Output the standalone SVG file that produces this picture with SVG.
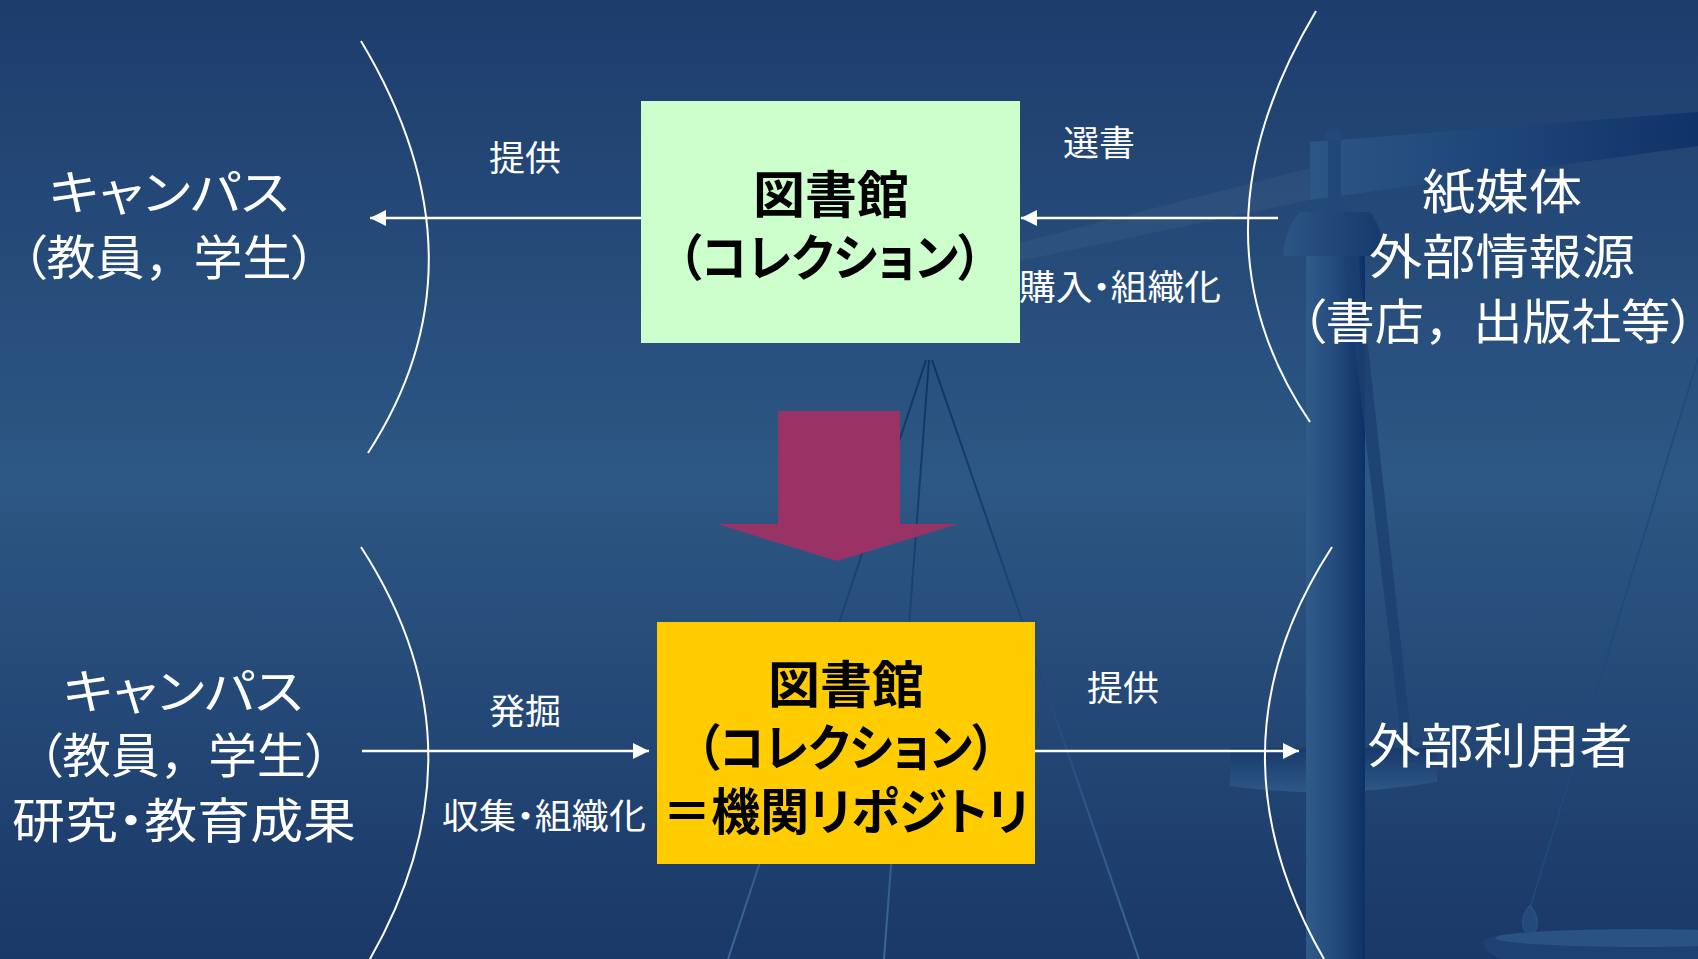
<svg xmlns="http://www.w3.org/2000/svg" width="1698" height="959" viewBox="0 0 1698 959">
<style>
.t{font-family:"Noto Sans CJK JP","Noto Sans CJK SC",sans-serif;fill:#ffffff;text-anchor:middle;font-feature-settings:"palt"}
.big{font-size:48px}
.lbl{font-size:35px}
.box{font-family:"Noto Sans CJK JP","Noto Sans CJK SC",sans-serif;fill:#000000;font-weight:700;font-size:50px;text-anchor:middle;font-feature-settings:"palt"}
.fw{font-feature-settings:normal}
.arc{fill:none;stroke:#ffffff;stroke-width:2}
.conn{fill:none;stroke:#ffffff;stroke-width:2.5}
</style>
<defs>
<linearGradient id="bg" x1="0" y1="0" x2="0" y2="1">
<stop offset="0" stop-color="#1d3d6d"/>
<stop offset="0.5" stop-color="#2d5784"/>
<stop offset="1" stop-color="#1a3868"/>
</linearGradient>
<linearGradient id="str" gradientUnits="userSpaceOnUse" x1="0" y1="360" x2="0" y2="959">
<stop offset="0" stop-color="#0f3466"/>
<stop offset="0.5" stop-color="#1d4678"/>
<stop offset="1" stop-color="#3b6898"/>
</linearGradient>
<linearGradient id="beam" x1="0" y1="0" x2="1" y2="0">
<stop offset="0" stop-color="#2c5686"/>
<stop offset="1" stop-color="#10336a"/>
</linearGradient>
<linearGradient id="post" x1="0" y1="0" x2="1" y2="0">
<stop offset="0" stop-color="#2f5b89"/>
<stop offset="0.55" stop-color="#23497a"/>
<stop offset="1" stop-color="#0c3166"/>
</linearGradient>
<linearGradient id="dome" x1="0" y1="0" x2="1" y2="0">
<stop offset="0" stop-color="#2c5585"/>
<stop offset="0.6" stop-color="#1f4476"/>
<stop offset="1" stop-color="#163a6c"/>
</linearGradient>
<linearGradient id="dish" x1="0" y1="0" x2="0" y2="1">
<stop offset="0" stop-color="#173a6b"/>
<stop offset="1" stop-color="#2e5887"/>
</linearGradient>
<marker id="ah" viewBox="0 0 10 10" refX="10" refY="5" markerWidth="16" markerHeight="16" markerUnits="userSpaceOnUse" orient="auto">
<path d="M0,0 L10,5 L0,10 Z" fill="#ffffff"/>
</marker>
</defs>

<rect x="0" y="0" width="1698" height="959" fill="url(#bg)"/>

<g id="background-scale">
<polygon points="1000,248 1310,168 1310,200 1000,265" fill="#ffffff" opacity="0.04"/>
<circle cx="928" cy="346" r="14" fill="none" stroke="#2a5182" stroke-width="1.5"/>
<line x1="926" y1="360" x2="728" y2="959" stroke="url(#str)" stroke-width="2"/>
<line x1="929" y1="360" x2="884" y2="959" stroke="url(#str)" stroke-width="2"/>
<line x1="932" y1="360" x2="1139" y2="959" stroke="url(#str)" stroke-width="2"/>
<path d="M1230,748 L1437,748 L1437,782 Q1333,800 1230,786 Z" fill="url(#dish)"/>
<polygon points="1310,142 1698,112 1698,146 1310,200" fill="url(#beam)"/>
<rect x="1326" y="128" width="15" height="16" rx="7" fill="#23497a"/>
<rect x="1328" y="140" width="13" height="75" fill="#22487a"/>
<path d="M1283,256 Q1285,228 1300,212 L1370,212 Q1384,230 1384,256 Z" fill="url(#dome)"/>
<rect x="1306" y="256" width="59" height="703" fill="url(#post)"/>
<polygon points="1344,256 1358,256 1414,762 1404,762" fill="#1c4070" opacity="0.8"/>
<line x1="1700" y1="352" x2="1530" y2="908" stroke="#1f4a7c" stroke-width="1.6"/>
<path d="M1530,905 Q1519,918 1524,930 Q1530,940 1536,930 Q1541,918 1530,905 Z" fill="#234a7a" stroke="#2c5686" stroke-width="1"/>
<path d="M1483,942 Q1483,930 1620,930 L1698,930 L1698,959 L1500,959 Q1483,952 1483,942 Z" fill="#1d4172"/>
<ellipse cx="1640" cy="938" rx="145" ry="9" fill="#2a5383"/>
</g>

<g id="arcs">
<path class="arc" d="M361,41 Q493,261 368,453"/>
<path class="arc" d="M1316,11 Q1183,234 1310,422"/>
<path class="arc" d="M361,547 Q491,747 370,959"/>
<path class="arc" d="M1332,547 Q1202,747 1324,959"/>
</g>

<g id="connectors">
<line class="conn" x1="641" y1="218" x2="370" y2="218" marker-end="url(#ah)"/>
<line class="conn" x1="1278" y1="218" x2="1021" y2="218" marker-end="url(#ah)"/>
<line class="conn" x1="362" y1="751" x2="649" y2="751" marker-end="url(#ah)"/>
<line class="conn" x1="1035" y1="751" x2="1299" y2="751" marker-end="url(#ah)"/>
<polygon id="down-arrow" points="778,411 900,411 900,524 958,524 837,561 717,524 778,524" fill="#993366"/>
</g>

<g id="campus-top">
<text class="t big" x="169" y="210" textLength="240" lengthAdjust="spacingAndGlyphs">キャンパス</text>
<text class="t big" x="169" y="275" textLength="294" lengthAdjust="spacingAndGlyphs">（教員<tspan class="fw">，</tspan>学生）</text>
</g>

<g id="library-collection">
<rect x="641" y="101" width="379" height="242" fill="#ccffcc"/>
<text class="box" x="831" y="213" textLength="156" lengthAdjust="spacingAndGlyphs">図書館</text>
<text class="box" x="830" y="276" textLength="304" lengthAdjust="spacingAndGlyphs">（コレクション）</text>
</g>

<g id="external-sources">
<text class="t big" x="1502" y="209" textLength="160" lengthAdjust="spacingAndGlyphs">紙媒体</text>
<text class="t big" x="1502" y="274" textLength="266" lengthAdjust="spacingAndGlyphs">外部情報源</text>
<text class="t big" x="1498" y="339" textLength="394" lengthAdjust="spacingAndGlyphs">（書店<tspan class="fw">，</tspan>出版社等）</text>
</g>

<g id="campus-bottom">
<text class="t big" x="183" y="709" textLength="240" lengthAdjust="spacingAndGlyphs">キャンパス</text>
<text class="t big" x="184" y="773" textLength="292" lengthAdjust="spacingAndGlyphs">（教員<tspan class="fw">，</tspan>学生）</text>
<text class="t big" x="184" y="838" textLength="344" lengthAdjust="spacingAndGlyphs">研究・教育成果</text>
</g>

<g id="institutional-repository">
<rect x="657" y="622" width="378" height="242" fill="#ffcc00"/>
<text class="box" x="846" y="703" textLength="156" lengthAdjust="spacingAndGlyphs">図書館</text>
<text class="box" x="846" y="766" textLength="299" lengthAdjust="spacingAndGlyphs">（コレクション）</text>
<text class="box" x="846" y="830" textLength="367" lengthAdjust="spacingAndGlyphs">＝機関リポジトリ</text>
</g>

<g id="external-users">
<text class="t big" x="1500" y="763" textLength="265" lengthAdjust="spacingAndGlyphs">外部利用者</text>
</g>

<g id="labels">
<text class="t lbl" x="525" y="171" textLength="72" lengthAdjust="spacingAndGlyphs">提供</text>
<text class="t lbl" x="1099" y="156" textLength="72" lengthAdjust="spacingAndGlyphs">選書</text>
<text class="t lbl" x="1120" y="300" textLength="202" lengthAdjust="spacingAndGlyphs">購入・組織化</text>
<text class="t lbl" x="525" y="724" textLength="72" lengthAdjust="spacingAndGlyphs">発掘</text>
<text class="t lbl" x="544" y="829" textLength="204" lengthAdjust="spacingAndGlyphs">収集・組織化</text>
<text class="t lbl" x="1123" y="701" textLength="72" lengthAdjust="spacingAndGlyphs">提供</text>
</g>
</svg>
